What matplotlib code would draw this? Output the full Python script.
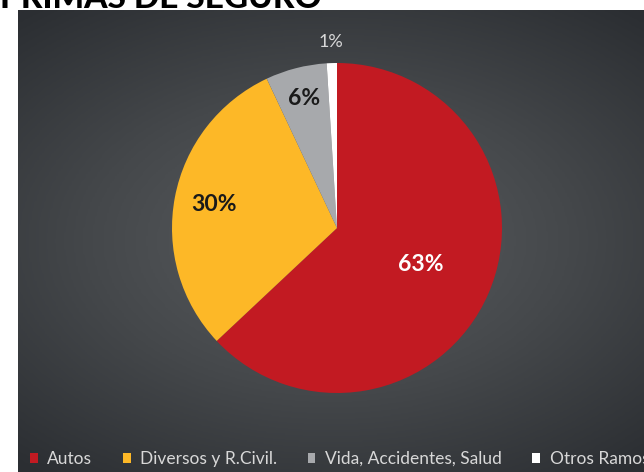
import numpy as np
import matplotlib.pyplot as plt
from matplotlib.colors import LinearSegmentedColormap

categories = ["Autos", "Diversos y R.Civil.", "Vida, Accidentes, Salud", "Otros Ramos"]
shares = [63, 30, 6, 1]
colors = ["#c21a22", "#fdb827", "#a7a9ac", "#ffffff"]
label_colors = ["white", "#1a1a1a", "#1a1a1a", "#d8d8d8"]
label_dist = [0.55, 0.76, 0.81, 1.13]

plt.rcParams['font.family'] = ['Lato', 'DejaVu Sans']

fig = plt.figure(figsize=(6.44, 4.72), dpi=100)
fig.patch.set_facecolor("white")

# dark gradient panel
bg = fig.add_axes([18 / 644, 0, 626 / 644, 462 / 472])
yy, xx = np.mgrid[-1:1:200j, -1:1:260j]
rr = np.sqrt((xx * 0.85) ** 2 + (yy * 1.0) ** 2)
grad = np.clip(rr / 1.3, 0, 1)
cmap = LinearSegmentedColormap.from_list("panel", ["#5b5e61", "#45484b", "#2b2e32"])
bg.imshow(grad, cmap=cmap, vmin=0, vmax=1, aspect="auto", extent=[0, 1, 0, 1])
bg.set_axis_off()

# title, cut off at the top like the reference
fig.text(0.0, 1 - 8 / 472, "PRIMAS DE SEGURO", fontsize=24, fontweight="black",
         color="black", ha="left", va="baseline")

ax = fig.add_axes([(337 - 165) / 644, 1 - (228 + 165) / 472, 330 / 644, 330 / 472])
wedges, texts, autotexts = ax.pie(shares, colors=colors, startangle=90, counterclock=False,
                                  autopct="%1.0f%%", pctdistance=0.7,
                                  wedgeprops=dict(linewidth=0))
for w, t, d, c in zip(wedges, autotexts, label_dist, label_colors):
    ang = np.deg2rad((w.theta1 + w.theta2) / 2)
    t.set_position((d * np.cos(ang), d * np.sin(ang)))
    t.set_color(c)
    t.set_fontsize(16.5)
    t.set_fontweight("bold")
autotexts[3].set_fontsize(13)
autotexts[3].set_fontweight("normal")
ax.set_xlim(-1, 1)
ax.set_ylim(-1, 1)
ax.set_axis_off()

leg = fig.legend(wedges, categories, loc="center left", bbox_to_anchor=(30 / 644, 1 - 459 / 472),
                 ncol=4, frameon=False, fontsize=12.5, labelcolor="#d8d8d8",
                 borderpad=0, borderaxespad=0,
                 handlelength=0.45, handleheight=0.5, handletextpad=0.55, columnspacing=1.75)

fig.savefig("out.png", dpi=100, facecolor="white")
